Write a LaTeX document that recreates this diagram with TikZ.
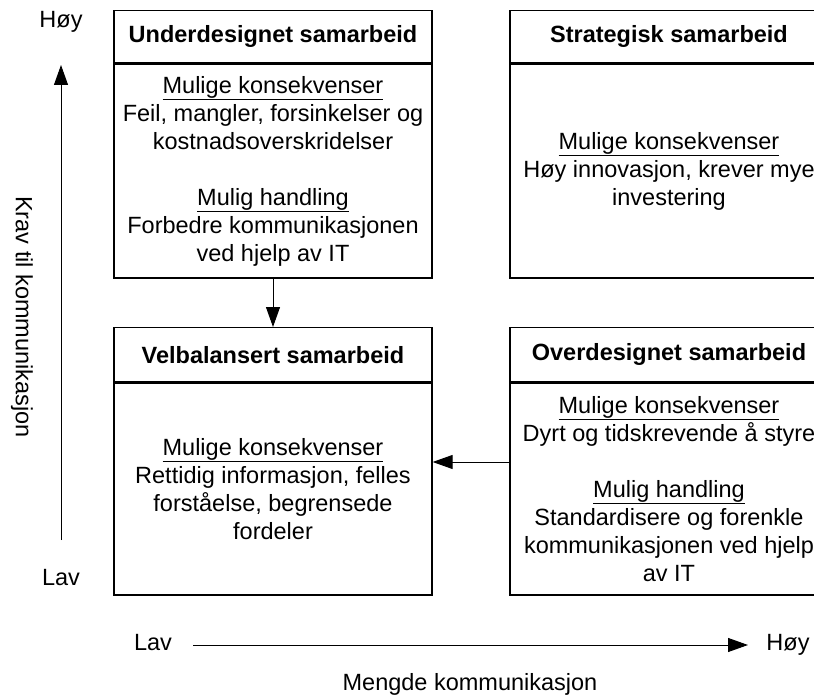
\documentclass[tikz,border=0pt]{standalone}
\usepackage{fontspec}
\setmainfont{Liberation Sans}
\usetikzlibrary{arrows.meta}
\begin{document}
\begin{tikzpicture}[x=1pt,y=-1pt,
  every node/.style={font=\fontsize{23.5}{28}\selectfont, inner sep=0pt},
  boxpart/.style={draw, line width=1.3pt, minimum width=318pt, anchor=north, align=center},
  titlebox/.style={boxpart, font=\fontsize{23.5}{28}\selectfont\bfseries},
  arr/.style={line width=1pt, -{Triangle[length=20pt,width=14pt]}},
  lbl/.style={anchor=base}]
\useasboundingbox (0,0) rectangle (814,695);
\clip (0,0) rectangle (814,695);
\fill[white] (0,0) rectangle (814,695);

% top left
\node[titlebox, minimum height=52pt] (udT) at (273,10) {Underdesignet samarbeid};
\node[boxpart, minimum height=214pt] (udB) at (udT.south)
  {\underline{Mulige konsekvenser}\\ Feil, mangler, forsinkelser og\\ kostnadsoverskridelser\\[28pt]
   \underline{Mulig handling}\\ Forbedre kommunikasjonen\\ ved hjelp av IT};

% top right
\node[titlebox, minimum height=52pt] (stT) at (669,10) {Strategisk samarbeid};
\node[boxpart, minimum height=214pt] (stB) at (stT.south)
  {\underline{Mulige konsekvenser}\\ Høy innovasjon, krever mye\\ investering};

% bottom left
\node[titlebox, minimum height=54pt] (vbT) at (273,327) {Velbalansert samarbeid};
\node[boxpart, minimum height=212pt] (vbB) at (vbT.south)
  {\underline{Mulige konsekvenser}\\ Rettidig informasjon, felles\\ forståelse, begrensede\\ fordeler};

% bottom right
\node[titlebox, minimum height=54pt] (odT) at (669,327) {Overdesignet samarbeid};
\node[boxpart, minimum height=212pt] (odB) at (odT.south)
  {\underline{Mulige konsekvenser}\\ Dyrt og tidskrevende å styre\\[28pt]
   \underline{Mulig handling}\\ Standardisere og forenkle\\ kommunikasjonen ved hjelp\\ av IT};

% connectors
\draw[arr] (udB.south) -- (vbT.north);
\coordinate (ly) at (0,462);
\draw[arr] (odB.west |- ly) -- (vbB.east |- ly);

% vertical axis
\coordinate (vaxB) at (61,540);
\coordinate (vaxT) at (61,65);
\draw[arr] (vaxB) -- (vaxT);
\node[lbl] (vhoy) at (61,28) {Høy};
\node[lbl] (vlav) at (61,585) {Lav};
\node[rotate=-90] (vtitle) at (22,317) {Krav til kommunikasjon};

% horizontal axis
\coordinate (haxL) at (193,645);
\coordinate (haxR) at (748,645);
\draw[arr] (haxL) -- (haxR);
\node[lbl] (hlav) at (153,650) {Lav};
\node[lbl] (hhoy) at (788,650) {Høy};
\node[lbl] (htitle) at (470,690) {Mengde kommunikasjon};
\end{tikzpicture}
\end{document}
